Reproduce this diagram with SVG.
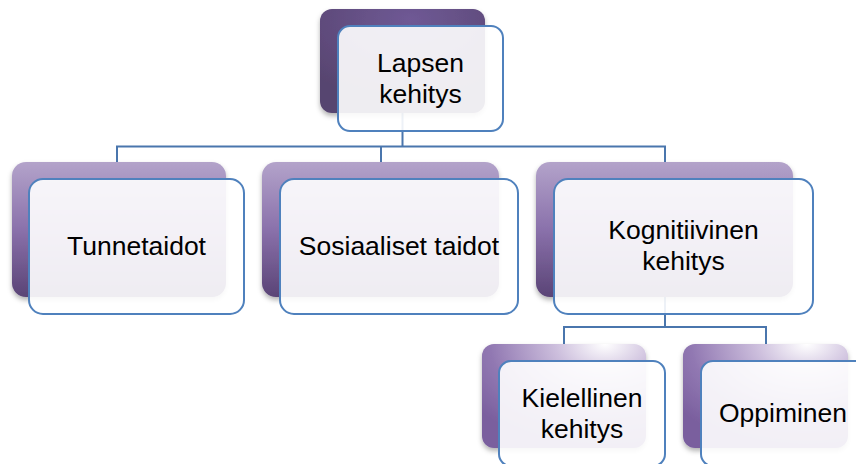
<svg xmlns="http://www.w3.org/2000/svg" width="856" height="464" viewBox="0 0 856 464">
<defs>
<linearGradient id="gL1" x1="0" y1="0" x2="0" y2="1">
<stop offset="0" stop-color="#b3a3ca"/>
<stop offset="0.5" stop-color="#8a71ab"/>
<stop offset="1" stop-color="#5a4476"/>
</linearGradient>
<radialGradient id="gTop" cx="0.55" cy="0.1" r="0.8">
<stop offset="0" stop-color="#6f5995"/>
<stop offset="1" stop-color="#57446f"/>
</radialGradient>
<radialGradient id="gL2" cx="0.75" cy="0" r="1" fx="0.75" fy="0">
<stop offset="0" stop-color="#ffffff"/>
<stop offset="0.3" stop-color="#cdbfdd"/>
<stop offset="0.7" stop-color="#9178b2"/>
<stop offset="1" stop-color="#7a5f9e"/>
</radialGradient>
<filter id="sh" x="-10%" y="-10%" width="120%" height="130%">
<feDropShadow dx="0" dy="3" stdDeviation="2.5" flood-color="#000" flood-opacity="0.3"/>
</filter>
</defs>
<style>
.conn{fill:none;stroke:#4a76ad;stroke-width:2}
.back{filter:url(#sh)}
.front{fill:#ffffff;fill-opacity:0.9;stroke:#4f81bd;stroke-width:2}
.t{font-family:"Liberation Sans",Arial,sans-serif;font-size:26.5px;fill:#000;text-anchor:middle}
</style>
<g id="connectors">
<path class="conn" d="M402.5,113 V146.5 M117,162 V146.5 H665 V162 M381,146.5 V162"/>
<path class="conn" d="M665,297 V327 M564,344 V327 H766 V344"/>
</g>
<g id="n-lapsen">
<rect class="back" x="320" y="9" width="165" height="104" rx="12" fill="url(#gTop)"/>
<rect class="front" x="338" y="26" width="165" height="105" rx="12"/>
<text class="t" x="420.5" y="72">Lapsen</text>
<text class="t" x="420.5" y="103">kehitys</text>
</g>
<g id="n-tunne">
<rect class="back" x="12" y="162" width="214" height="135" rx="14" fill="url(#gL1)"/>
<rect class="front" x="29" y="179" width="215" height="135" rx="14"/>
<text class="t" x="136.5" y="255">Tunnetaidot</text>
</g>
<g id="n-sosiaaliset">
<rect class="back" x="262" y="162" width="237" height="135" rx="14" fill="url(#gL1)"/>
<rect class="front" x="280" y="179" width="238" height="135" rx="14"/>
<text class="t" x="399" y="255">Sosiaaliset taidot</text>
</g>
<g id="n-kognitiivinen">
<rect class="back" x="536" y="162" width="257" height="135" rx="14" fill="url(#gL1)"/>
<rect class="front" x="554" y="179" width="259" height="135" rx="14"/>
<text class="t" x="683.5" y="239">Kognitiivinen</text>
<text class="t" x="683.5" y="270">kehitys</text>
</g>
<g id="n-kielellinen">
<rect class="back" x="482" y="344" width="164" height="104" rx="12" fill="url(#gL2)"/>
<rect class="front" x="499" y="361" width="166" height="105" rx="12"/>
<text class="t" x="582" y="407">Kielellinen</text>
<text class="t" x="582" y="438">kehitys</text>
</g>
<g id="n-oppiminen">
<rect class="back" x="683" y="344" width="165" height="104" rx="12" fill="url(#gL2)"/>
<rect class="front" x="701" y="361" width="166" height="105" rx="12"/>
<text class="t" x="783" y="422">Oppiminen</text>
</g>
</svg>
